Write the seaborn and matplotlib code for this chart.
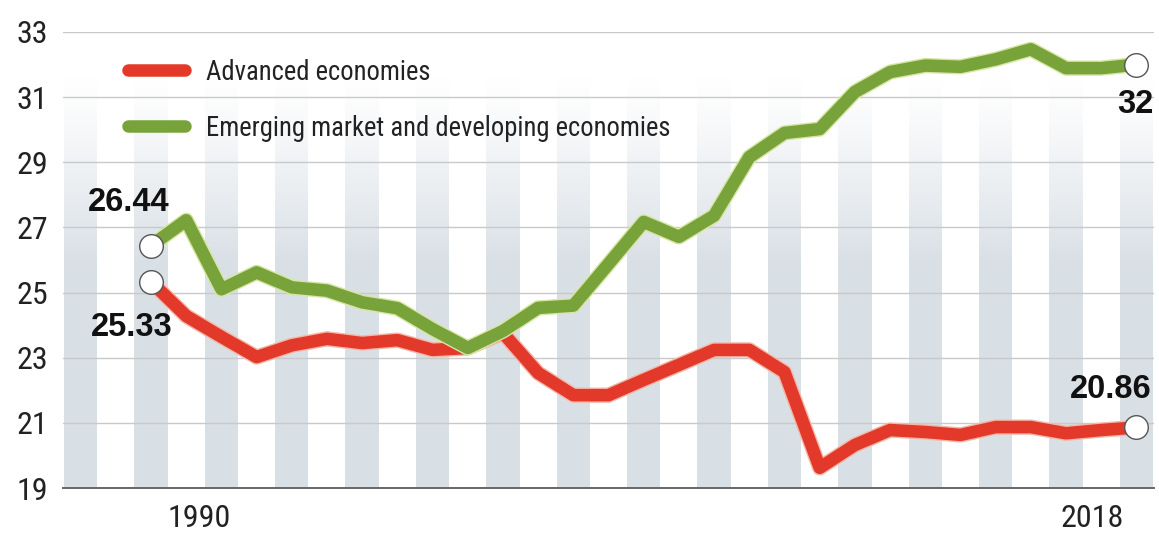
import numpy as np
import pandas as pd
import matplotlib
matplotlib.use("Agg")
import matplotlib.pyplot as plt
import matplotlib.patheffects as pe
from matplotlib import font_manager
from matplotlib.font_manager import FontProperties
import seaborn as sns

# ---- data -------------------------------------------------------------
years = list(range(1990, 2019))
advanced = [25.33, 24.28, 23.64, 23.02, 23.38, 23.58, 23.45, 23.54, 23.24, 23.30,
            23.76, 22.53, 21.85, 21.85, 22.32, 22.78, 23.24, 23.24, 22.56, 19.62,
            20.32, 20.78, 20.72, 20.63, 20.87, 20.87, 20.68, 20.78, 20.86]
emerging = [26.44, 27.22, 25.10, 25.62, 25.16, 25.06, 24.70, 24.52, 23.88, 23.30,
            23.82, 24.53, 24.60, 25.88, 27.17, 26.71, 27.36, 29.16, 29.90, 30.02,
            31.16, 31.77, 31.97, 31.93, 32.16, 32.47, 31.89, 31.89, 32.00]
series_names = ["Advanced economies", "Emerging market and developing economies"]
yticks = [19, 21, 23, 25, 27, 29, 31, 33]
year_labels = [1990, 2018]

RED = "#e2392b"
GREEN = "#78a23a"


def narrow_font():
    """Pick a regular-weight condensed sans face if one is installed."""
    fonts = font_manager.fontManager.ttflist
    for fam in ("Roboto Condensed", "Liberation Sans Narrow", "Open Sans Condensed"):
        for f in fonts:
            if f.name == fam and f.style == "normal" and f.weight in (400, "normal", "regular"):
                return FontProperties(fname=f.fname)
    for f in fonts:
        if f.name == "DejaVu Sans" and "condensed" in str(f.stretch) \
                and f.style == "normal" and f.weight in (400, "normal"):
            return FontProperties(fname=f.fname)
    return FontProperties(family="DejaVu Sans")


names = {f.name for f in font_manager.fontManager.ttflist}
bold_family = "Liberation Sans" if "Liberation Sans" in names else "DejaVu Sans"

sns.set_theme(style="white")
plt.rcParams["font.family"] = ["DejaVu Sans"]
base = narrow_font()


def fp(size):
    p = base.copy()
    p.set_size(size)
    return p


df = pd.DataFrame({
    "year": years * 2,
    "value": advanced + emerging,
    "series": [series_names[0]] * len(years) + [series_names[1]] * len(years),
})

fig = plt.figure(figsize=(11.59, 5.33), dpi=100)
ax = fig.add_axes([0.0544, 0.0844, 0.9413, 0.8556])

x0, x1 = years[0] - 2.5, years[-1] + 0.5
ax.set_xlim(x0, x1)
ax.set_ylim(19, 33)

# ---- alternating year columns, fading out towards the top --------------
res = 40
nx = int(round((x1 - x0) * res))
ny = 300
xs = x0 + (np.arange(nx) + 0.5) / res
ys = 19 + (np.arange(ny) + 0.5) / ny * 14
nearest = np.round(xs)
in_band = (np.abs(xs - nearest) <= 0.47) & (nearest % 2 == 0)
fade = np.clip((31.6 - ys) / (31.6 - 25.8), 0, 1) ** 1.2
img = np.zeros((ny, nx, 4))
img[..., 0] = 0xd8 / 255
img[..., 1] = 0xdf / 255
img[..., 2] = 0xe5 / 255
img[..., 3] = fade[:, None] * in_band[None, :]
ax.imshow(img, extent=[x0, x1, 19, 33], origin="lower", aspect="auto",
          interpolation="nearest", zorder=0)

for yv in yticks[1:]:
    ax.axhline(yv, color="#c9c9c9", lw=1.0, zorder=1)

# ---- series -----------------------------------------------------------
n_before = len(ax.lines)
sns.lineplot(data=df, x="year", y="value", hue="series", palette=[RED, GREEN],
             linewidth=9, legend=False, ax=ax, zorder=3)
series_lines = ax.lines[n_before:n_before + 2]
halo = ["#f4b7a8", "#d6e6a2"]
for line, hc in zip(series_lines, halo):
    line.set_solid_joinstyle("round")
    line.set_solid_capstyle("round")
    line.set_path_effects([pe.Stroke(linewidth=11, foreground=hc), pe.Normal()])

# end-point markers
for vals in (advanced, emerging):
    ax.plot([years[0], years[-1]], [vals[0], vals[-1]], "o", ms=17,
            mfc="white", mec="#555555", mew=1.0, zorder=5)

# value labels
lab = dict(fontsize=23.5, fontweight="bold", family=bold_family, color="#111111", zorder=6)
ax.annotate(f"{emerging[0]:.2f}", (years[0], emerging[0]), xytext=(-16, 31),
            textcoords="offset points", ha="center", va="center", **lab)
ax.annotate(f"{advanced[0]:.2f}", (years[0], advanced[0]), xytext=(-14, -33),
            textcoords="offset points", ha="center", va="center", **lab)
ax.annotate(f"{emerging[-1]:g}", (years[-1], emerging[-1]), xytext=(12, -29),
            textcoords="offset points", ha="right", va="center", **lab)
ax.annotate(f"{advanced[-1]:.2f}", (years[-1], advanced[-1]), xytext=(11, 27),
            textcoords="offset points", ha="right", va="center", **lab)

# ---- axes -------------------------------------------------------------
ax.set_yticks(yticks)
ax.set_yticklabels([str(v) for v in yticks], color="#222222")
for t in ax.get_yticklabels():
    t.set_fontproperties(fp(23))
ax.tick_params(axis="y", length=0, pad=11)
ax.set_xticks(year_labels)
ax.set_xticklabels(["", ""])
ax.tick_params(axis="x", length=33, width=1.2, color="#444444", direction="out", pad=0)
ax.set_xlabel("")
ax.set_ylabel("")
for s in ("top", "right", "left"):
    ax.spines[s].set_visible(False)
ax.spines["bottom"].set_color("#666666")
ax.spines["bottom"].set_linewidth(1.4)

ax.annotate(str(year_labels[0]), (year_labels[0], 0), xycoords=("data", "axes fraction"),
            xytext=(12, -22), textcoords="offset points", ha="left", va="center",
            fontproperties=fp(23), color="#222222")
ax.annotate(str(year_labels[1]), (year_labels[1], 0), xycoords=("data", "axes fraction"),
            xytext=(-9, -22), textcoords="offset points", ha="right", va="center",
            fontproperties=fp(23), color="#222222")

# ---- legend -----------------------------------------------------------
leg = ax.legend(handles=series_lines, labels=series_names, loc="upper left",
                bbox_to_anchor=(0.0377, 0.994), frameon=False, prop=fp(19.2),
                handlelength=2.13, handletextpad=0.79, labelspacing=1.09)
for h in leg.get_lines():
    h.set_linewidth(9)
    h.set_solid_capstyle("round")
    h.set_path_effects([])
for t in leg.get_texts():
    t.set_color("#222222")

fig.savefig("out.png", dpi=100)
